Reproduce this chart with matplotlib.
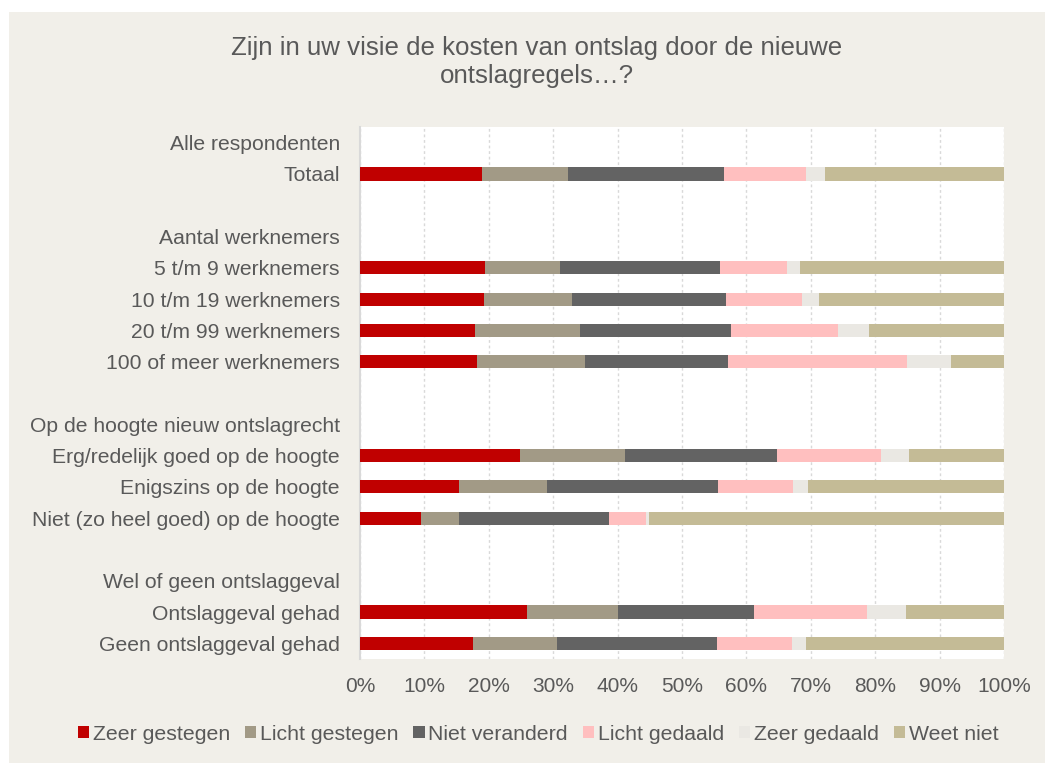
import matplotlib.pyplot as plt
from matplotlib.patches import Patch, Rectangle
import numpy as np

plt.rcParams['font.family'] = ['Liberation Sans', 'DejaVu Sans']

# rows, top to bottom; "" = blank spacer row
rows = [
    "Alle respondenten", "Totaal", "",
    "Aantal werknemers", "5 t/m 9 werknemers", "10 t/m 19 werknemers",
    "20 t/m 99 werknemers", "100 of meer werknemers", "",
    "Op de hoogte nieuw ontslagrecht", "Erg/redelijk goed op de hoogte",
    "Enigszins op de hoogte", "Niet (zo heel goed) op de hoogte", "",
    "Wel of geen ontslaggeval", "Ontslaggeval gehad", "Geen ontslaggeval gehad",
]
bar_rows = [1, 4, 5, 6, 7, 10, 11, 12, 15, 16]

series = ["Zeer gestegen", "Licht gestegen", "Niet veranderd",
          "Licht gedaald", "Zeer gedaald", "Weet niet"]
colors = ["#C00000", "#A29A86", "#636363", "#FFBFBF", "#EAE8E3", "#C4BB96"]

zeer_gestegen = [19.0, 19.4, 19.3, 17.9, 18.1, 24.9, 15.3, 9.4, 25.9, 17.5]
licht_gestegen = [13.3, 11.7, 13.6, 16.2, 16.9, 16.3, 13.7, 5.9, 14.1, 13.1]
niet_veranderd = [24.2, 24.8, 23.9, 23.5, 22.1, 23.5, 26.6, 23.3, 21.2, 24.8]
licht_gedaald = [12.7, 10.4, 11.8, 16.6, 27.8, 16.2, 11.7, 5.8, 17.5, 11.7]
zeer_gedaald = [3.0, 2.0, 2.7, 4.9, 6.9, 4.4, 2.2, 0.4, 6.1, 2.2]
weet_niet = [27.8, 31.7, 28.7, 20.9, 8.2, 14.7, 30.5, 55.2, 15.2, 30.7]

values = [zeer_gestegen, licht_gestegen, niet_veranderd,
          licht_gedaald, zeer_gedaald, weet_niet]

fig = plt.figure(figsize=(10.45, 7.63), dpi=100, facecolor="white")
fig.patches.append(Rectangle((9 / 1045, 0), 1, 1 - 12 / 763,
                             transform=fig.transFigure, facecolor="#F1EFE9",
                             edgecolor="none", zorder=-10))

ax = fig.add_axes([360 / 1045, 104 / 763, 644 / 1045, 532 / 763])
ax.set_facecolor("white")

left = np.zeros(len(bar_rows))
for name, vals, col in zip(series, values, colors):
    vals = np.array(vals)
    ax.barh(bar_rows, vals, left=left, height=0.42, color=col, zorder=3)
    left += vals

ax.set_xlim(0, 100)
ax.set_ylim(len(rows) - 0.5, -0.5)
ax.set_yticks(range(len(rows)))
ax.set_yticklabels(rows, fontsize=15.2, color="#595959")
ax.set_xticks(range(0, 101, 10))
ax.set_xticklabels([f"{t}%" for t in range(0, 101, 10)], fontsize=15, color="#595959")
ax.tick_params(axis="both", length=0)
ax.tick_params(axis="y", pad=14.5)
ax.tick_params(axis="x", pad=13)
ax.grid(axis="x", color="#D9D9D9", linestyle=(0, (2, 2)), linewidth=1, zorder=0)
for s in ["top", "right", "bottom"]:
    ax.spines[s].set_visible(False)
ax.spines["left"].set_color("#D9D9D9")
ax.spines["left"].set_linewidth(1.5)

fig.text(537 / 1045, 1 - 62 / 763,
         "Zijn in uw visie de kosten van ontslag door de nieuwe\nontslagregels…?",
         ha="center", va="center", fontsize=18.6, color="#595959", linespacing=1.2)

handles = [Patch(facecolor=c, edgecolor="none") for c in colors]
fig.legend(handles, series, loc="center", bbox_to_anchor=(538 / 1045, 1 - 734 / 763),
           ncol=6, frameon=False, fontsize=15.3, handlelength=0.54, handleheight=0.54,
           handletextpad=0.17, columnspacing=0.7, labelcolor="#595959")

fig.savefig("out.png", dpi=100, facecolor=fig.get_facecolor())
